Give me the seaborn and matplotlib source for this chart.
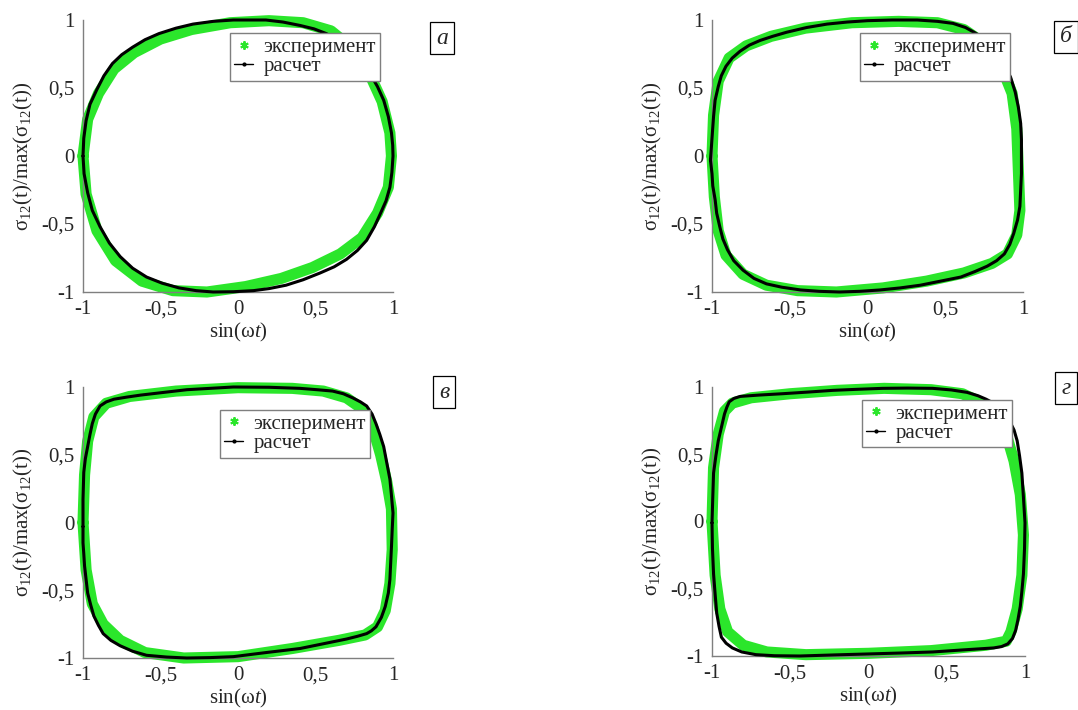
import numpy as np
import pandas as pd
import matplotlib
matplotlib.use("Agg")
import matplotlib.pyplot as plt
from matplotlib.lines import Line2D
import seaborn as sns

sns.set_style("white")
plt.rcParams["font.family"] = ["Liberation Serif", "DejaVu Serif"]
plt.rcParams["mathtext.fontset"] = "custom"
plt.rcParams["mathtext.rm"] = "Liberation Serif"
plt.rcParams["mathtext.it"] = "Liberation Serif:italic"

tick_values = [-1, -0.5, 0, 0.5, 1]
tick_labels = ["-1", "-0,5", "0", "0,5", "1"]
panel_letters = ["а", "б", "в", "г"]
legend_labels = ["эксперимент", "расчет"]
x_label = "sin(ω$\\mathit{t}$)"
y_label = "σ$_{12}$(t)/max(σ$_{12}$(t))"

# ---- panel а : computed loop (x, y) ----
a_calc = [(-1.00, 0.00), (-0.995, 0.13), (-0.98, 0.26), (-0.955, 0.38), (-0.91, 0.49), (-0.865, 0.59),
          (-0.81, 0.68), (-0.75, 0.745), (-0.68, 0.80), (-0.60, 0.855), (-0.51, 0.90), (-0.40, 0.94),
          (-0.29, 0.97), (-0.16, 0.99), (-0.03, 1.0), (0.08, 1.0), (0.18, 1.0), (0.29, 0.985), (0.40, 0.96),
          (0.49, 0.935), (0.57, 0.90), (0.65, 0.85), (0.72, 0.78), (0.79, 0.70), (0.85, 0.61), (0.90, 0.51),
          (0.94, 0.41), (0.97, 0.29), (0.99, 0.17), (0.998, 0.08), (1.00, 0.00), (0.993, -0.12), (0.98, -0.23),
          (0.955, -0.33), (0.92, -0.42), (0.88, -0.52), (0.83, -0.62), (0.77, -0.695), (0.70, -0.76),
          (0.62, -0.815), (0.53, -0.86), (0.42, -0.91), (0.31, -0.95), (0.20, -0.975), (0.10, -0.99),
          (-0.03, -0.998), (-0.16, -1.0), (-0.27, -0.99), (-0.38, -0.97), (-0.49, -0.935), (-0.59, -0.89),
          (-0.68, -0.825), (-0.76, -0.74), (-0.83, -0.64), (-0.89, -0.52), (-0.94, -0.40), (-0.97, -0.27),
          (-0.993, -0.13)]
a_exp = [(-1.00, 0.00), (-0.97, 0.27), (-0.90, 0.46), (-0.80, 0.64), (-0.67, 0.76), (-0.50, 0.86),
         (-0.30, 0.93), (-0.05, 0.98), (0.20, 0.995), (0.42, 0.98), (0.60, 0.92), (0.74, 0.79), (0.85, 0.60),
         (0.93, 0.40), (0.98, 0.17), (0.99, 0.00), (0.97, -0.23), (0.90, -0.42), (0.80, -0.60), (0.66, -0.72),
         (0.48, -0.82), (0.28, -0.90), (0.05, -0.96), (-0.20, -1.00), (-0.42, -0.99), (-0.62, -0.92),
         (-0.79, -0.77), (-0.91, -0.55), (-0.98, -0.28)]

# ---- panel б ----
b_calc = [(-1.01, -0.03), (-1.0, 0.13), (-0.99, 0.29), (-0.98, 0.41), (-0.96, 0.51), (-0.94, 0.59),
          (-0.91, 0.66), (-0.87, 0.72), (-0.82, 0.77), (-0.76, 0.815), (-0.69, 0.85), (-0.61, 0.88),
          (-0.52, 0.91), (-0.39, 0.945), (-0.26, 0.97), (-0.13, 0.985), (0.00, 0.995), (0.16, 1.0), (0.32, 1.0),
          (0.45, 0.99), (0.55, 0.975), (0.63, 0.945), (0.70, 0.90), (0.77, 0.83), (0.83, 0.75), (0.88, 0.67),
          (0.92, 0.58), (0.95, 0.47), (0.97, 0.36), (0.985, 0.24), (0.99, 0.12), (0.99, -0.13), (0.985, -0.25),
          (0.98, -0.37), (0.965, -0.47), (0.94, -0.57), (0.915, -0.65), (0.88, -0.72), (0.83, -0.77),
          (0.77, -0.81), (0.69, -0.85), (0.60, -0.89), (0.47, -0.92), (0.34, -0.95), (0.21, -0.97),
          (0.08, -0.985), (-0.05, -0.995), (-0.18, -1.0), (-0.31, -0.995), (-0.43, -0.985), (-0.55, -0.965),
          (-0.65, -0.94), (-0.73, -0.90), (-0.80, -0.84), (-0.86, -0.77), (-0.90, -0.69), (-0.93, -0.61),
          (-0.95, -0.52), (-0.97, -0.42), (-0.98, -0.32), (-0.995, -0.22), (-1.00, -0.13)]
b_exp = [(-1.00, 0.00), (-0.99, 0.30), (-0.96, 0.55), (-0.89, 0.72), (-0.78, 0.81), (-0.62, 0.88),
         (-0.40, 0.94), (-0.10, 0.98), (0.20, 0.99), (0.45, 0.98), (0.62, 0.93), (0.76, 0.82), (0.86, 0.66),
         (0.93, 0.46), (0.96, 0.20), (0.97, -0.10), (0.98, -0.40), (0.96, -0.58), (0.90, -0.72), (0.80, -0.79),
         (0.62, -0.86), (0.38, -0.92), (0.10, -0.97), (-0.20, -1.00), (-0.45, -0.99), (-0.65, -0.95),
         (-0.80, -0.87), (-0.91, -0.73), (-0.96, -0.55), (-0.985, -0.30)]

# ---- panel в ----
c_calc = [(-1.00, -0.03), (-1.0, 0.17), (-0.995, 0.37), (-0.985, 0.47), (-0.97, 0.56), (-0.955, 0.65),
          (-0.94, 0.73), (-0.92, 0.80), (-0.89, 0.86), (-0.85, 0.89), (-0.80, 0.91), (-0.72, 0.925),
          (-0.63, 0.94), (-0.48, 0.96), (-0.33, 0.98), (-0.18, 0.99), (-0.03, 1.00), (0.20, 0.998), (0.40, 0.99),
          (0.51, 0.98), (0.61, 0.97), (0.68, 0.95), (0.74, 0.92), (0.79, 0.89), (0.83, 0.86), (0.865, 0.80),
          (0.89, 0.73), (0.915, 0.65), (0.94, 0.56), (0.96, 0.44), (0.98, 0.32), (0.99, 0.20), (1.00, 0.07),
          (0.995, -0.05), (0.99, -0.18), (0.985, -0.30), (0.98, -0.42), (0.97, -0.52), (0.95, -0.62),
          (0.925, -0.70), (0.89, -0.77), (0.86, -0.80), (0.83, -0.82), (0.77, -0.84), (0.70, -0.86),
          (0.55, -0.895), (0.40, -0.93), (0.18, -0.96), (-0.03, -0.99), (-0.18, -0.997), (-0.33, -1.00),
          (-0.46, -0.993), (-0.59, -0.98), (-0.68, -0.95), (-0.76, -0.91), (-0.82, -0.87), (-0.87, -0.82),
          (-0.90, -0.76), (-0.93, -0.69), (-0.95, -0.61), (-0.97, -0.52), (-0.98, -0.42), (-0.99, -0.32),
          (-0.995, -0.23), (-1.00, -0.15)]
c_exp = [(-1.00, 0.00), (-0.99, 0.35), (-0.97, 0.60), (-0.93, 0.78), (-0.85, 0.88), (-0.70, 0.93),
         (-0.40, 0.97), (0.00, 0.995), (0.35, 0.99), (0.55, 0.97), (0.70, 0.92), (0.80, 0.84), (0.87, 0.70),
         (0.92, 0.50), (0.96, 0.30), (0.99, 0.10), (0.995, -0.20), (0.98, -0.45), (0.95, -0.65), (0.90, -0.77),
         (0.82, -0.83), (0.65, -0.87), (0.35, -0.93), (0.00, -0.99), (-0.35, -1.00), (-0.60, -0.96),
         (-0.76, -0.87), (-0.87, -0.75), (-0.94, -0.60), (-0.98, -0.35)]

# ---- panel г ----
d_calc = [(-1.00, -0.01), (-0.995, 0.18), (-0.99, 0.36), (-0.975, 0.49), (-0.96, 0.60), (-0.94, 0.70),
          (-0.92, 0.80), (-0.905, 0.85), (-0.89, 0.89), (-0.86, 0.915), (-0.82, 0.93), (-0.70, 0.94),
          (-0.55, 0.95), (-0.39, 0.962), (-0.23, 0.975), (-0.07, 0.983), (0.09, 0.99), (0.25, 0.992),
          (0.41, 0.99), (0.53, 0.978), (0.63, 0.96), (0.70, 0.935), (0.75, 0.91), (0.80, 0.88), (0.84, 0.85),
          (0.87, 0.80), (0.90, 0.75), (0.93, 0.68), (0.95, 0.60), (0.965, 0.49), (0.98, 0.36), (0.99, 0.18),
          (1.00, -0.01), (0.997, -0.20), (0.99, -0.39), (0.98, -0.52), (0.97, -0.63), (0.955, -0.73),
          (0.94, -0.81), (0.92, -0.87), (0.89, -0.91), (0.85, -0.93), (0.80, -0.94), (0.60, -0.955),
          (0.41, -0.97), (0.20, -0.978), (-0.01, -0.985), (-0.22, -0.992), (-0.44, -1.00), (-0.60, -0.998),
          (-0.72, -0.99), (-0.81, -0.97), (-0.87, -0.94), (-0.91, -0.905), (-0.94, -0.86), (-0.955, -0.78),
          (-0.97, -0.68), (-0.98, -0.54), (-0.99, -0.39), (-0.997, -0.20)]
d_exp = [(-1.00, 0.00), (-0.99, 0.40), (-0.96, 0.65), (-0.92, 0.82), (-0.87, 0.88), (-0.75, 0.92),
         (-0.50, 0.95), (-0.20, 0.975), (0.10, 0.99), (0.40, 0.98), (0.60, 0.95), (0.73, 0.88), (0.82, 0.78),
         (0.88, 0.65), (0.93, 0.45), (0.97, 0.20), (0.99, -0.10), (0.98, -0.40), (0.95, -0.65), (0.91, -0.82),
         (0.88, -0.89), (0.75, -0.92), (0.40, -0.96), (0.00, -0.98), (-0.40, -0.99), (-0.65, -0.97),
         (-0.80, -0.92), (-0.90, -0.82), (-0.95, -0.65), (-0.98, -0.40)]

panels = [(a_calc, a_exp), (b_calc, b_exp), (c_calc, c_exp), (d_calc, d_exp)]

W, H = 1078, 710
fig = plt.figure(figsize=(W / 100, H / 100), dpi=100)

# axes boxes in pixels: left, top, right, bottom
ax_px = [(83, 20, 393, 292), (712, 20, 1023, 292), (83, 387, 393, 658), (712, 387, 1025, 656)]
legend_anchor = [(0.958, 0.952), (0.958, 0.952), (0.926, 0.915), (0.958, 0.952)]
letter_px = [(442, 38), (1066, 37), (444, 392), (1066, 388)]

green = "#2BE62B"
gray = "#7f7f7f"


def loop_frame(points):
    closed = list(points) + [points[0]]
    return pd.DataFrame({"x": [p[0] for p in closed], "y": [p[1] for p in closed]})


for i, (calc, exp) in enumerate(panels):
    l, t, r, b = ax_px[i]
    ax = fig.add_axes([l / W, (H - b) / H, (r - l) / W, (b - t) / H])
    sns.lineplot(data=loop_frame(exp), x="x", y="y", sort=False, estimator=None, ax=ax,
                 color=green, linewidth=8, zorder=2, clip_on=False,
                 solid_joinstyle="round", solid_capstyle="round")
    sns.lineplot(data=loop_frame(calc), x="x", y="y", sort=False, estimator=None, ax=ax,
                 color="black", linewidth=2.2, zorder=3, clip_on=False,
                 solid_joinstyle="round", solid_capstyle="round")
    ax.set_xlim(-1, 1)
    ax.set_ylim(-1, 1)
    ax.set_xticks(tick_values, labels=tick_labels)
    ax.set_yticks(tick_values, labels=tick_labels)
    ax.tick_params(direction="in", length=3, width=0.8, color=gray, labelsize=15)
    ax.tick_params(axis="x", pad=6)
    ax.tick_params(axis="y", pad=6)
    for s in ["top", "right"]:
        ax.spines[s].set_visible(False)
    for s in ["left", "bottom"]:
        ax.spines[s].set_color(gray)
        ax.spines[s].set_linewidth(1.0)
    ax.set_xlabel(x_label, fontsize=15, labelpad=1)
    ax.set_ylabel(y_label, fontsize=15, labelpad=5)
    handles = [
        Line2D([], [], color=green, marker=(6, 2, 0), linestyle="none", markersize=6, markeredgewidth=1.4),
        Line2D([], [], color="black", marker=".", markersize=4, linewidth=1),
    ]
    leg = ax.legend(handles=handles, labels=legend_labels, loc="upper right",
                    bbox_to_anchor=legend_anchor[i], fontsize=15, frameon=True,
                    fancybox=False, framealpha=1, edgecolor=gray, handlelength=0.9,
                    handletextpad=0.5, borderpad=0.2, labelspacing=0.0, borderaxespad=0)
    leg.get_frame().set_linewidth(1.0)
    leg.set_zorder(5)
    lx, ly = letter_px[i]
    fig.text(lx / W, (H - ly) / H, panel_letters[i], fontsize=17, style="italic",
             ha="center", va="center",
             bbox=dict(boxstyle="square,pad=0.25", fc="white", ec="black", lw=0.9))

fig.savefig("out.png", dpi=100)
